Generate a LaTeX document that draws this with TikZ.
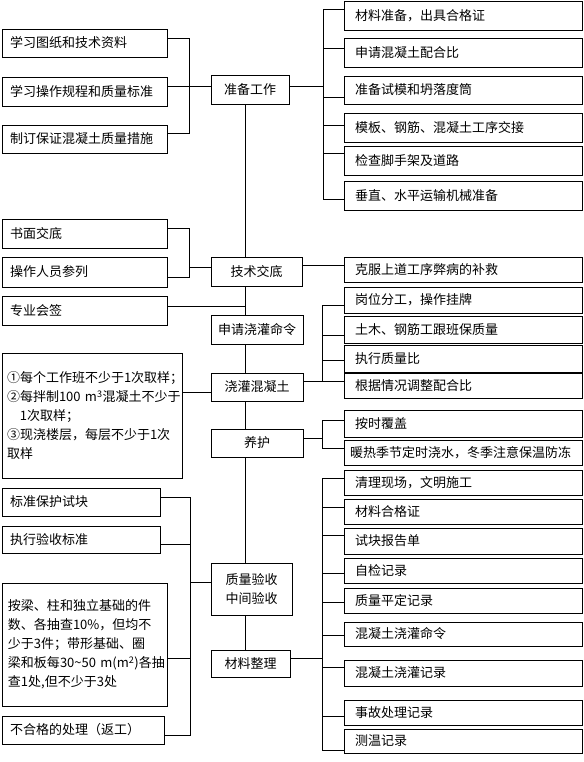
\documentclass[tikz,border=0pt]{standalone}
\usepackage{fontspec}
\setmainfont{Noto Sans CJK SC}
\tikzset{
  bx/.style={draw=black, line width=0.9pt, inner ysep=0pt, font=\fontsize{13}{19}\selectfont},
  ln/.style={draw=black, line width=0.8pt}
}
% \bxx{name}{x1}{y1}{x2}{y2}{padding}{align}{text}
\newcommand\bxx[8]{%
  \pgfmathsetmacro\bw{#4-#2}\pgfmathsetmacro\bh{#5-#3}\pgfmathsetmacro\tw{#4-#2-2*#6}%
  \node[bx, minimum width=\bw pt, minimum height=\bh pt, inner xsep=#6pt, text width=\tw pt, align=#7]
    (#1) at ({(#2+#4)/2},{(#3+#5)/2}) {#8};}
\begin{document}
\begin{tikzpicture}[x=1pt,y=-1pt]
\useasboundingbox (0,0) rectangle (583,762);
% ---------- left column ----------
\bxx{L1}{2}{29}{167}{57}{8}{left}{学习图纸和技术资料}
\bxx{L2}{2}{77}{167}{106}{8}{left}{学习操作规程和质量标准}
\bxx{L3}{2}{125}{167}{153}{8}{left}{制订保证混凝土质量措施}
\bxx{L4}{2}{219}{167}{248}{8}{left}{书面交底}
\bxx{L5}{2}{257}{167}{287}{8}{left}{操作人员参列}
\bxx{L6}{2}{296}{167}{325}{8}{left}{专业会签}
\bxx{N}{2}{353}{182}{478}{5}{left}{①每个工作班不少于1次取样；\\②每拌制100~m\textsuperscript{3}混凝土不少于\\\hspace*{1em}1次取样；\\③现浇楼层，每层不少于1次\\取样}
\bxx{L7}{2}{488}{160}{516}{8}{left}{标准保护试块}
\bxx{L8}{2}{526}{160}{553}{8}{left}{执行验收标准}
\bxx{L9}{2}{583}{167}{706}{6}{left}{按梁、柱和独立基础的件\\数、各抽查10\%，但均不\\少于3件；带形基础、圈\\梁和板每30\textasciitilde50~m(m\textsuperscript{2})各抽\\查1处,但不少于3处}
\bxx{L10}{2}{716}{164}{744}{8}{left}{不合格的处理（返工）}
% ---------- middle column ----------
\bxx{C1}{211}{75}{289}{104}{2}{center}{准备工作}
\bxx{C2}{211}{257}{302}{286}{2}{center}{技术交底}
\bxx{C3}{211}{315}{303}{344}{2}{center}{申请浇灌命令}
\bxx{C4}{211}{373}{303}{401}{2}{center}{浇灌混凝土}
\bxx{C5}{211}{429}{303}{457}{2}{center}{养护}
\bxx{C6}{211}{563}{292}{615}{2}{center}{质量验收\\中间验收}
\bxx{C7}{211}{650}{290}{677}{2}{center}{材料整理}
% ---------- right column ----------
\bxx{R1}{344}{1}{582}{30}{11}{left}{材料准备，出具合格证}
\bxx{R2}{344}{38}{582}{67}{11}{left}{申请混凝土配合比}
\bxx{R3}{344}{76}{582}{104}{11}{left}{准备试模和坍落度筒}
\bxx{R4}{344}{113}{582}{142}{11}{left}{模板、钢筋、混凝土工序交接}
\bxx{R5}{344}{146}{582}{175}{11}{left}{检查脚手架及道路}
\bxx{R6}{344}{181}{582}{210}{11}{left}{垂直、水平运输机械准备}
\bxx{R7}{344}{257}{582}{282}{11}{left}{克服上道工序弊病的补救}
\bxx{R8}{344}{287}{582}{313}{11}{left}{岗位分工，操作挂牌}
\bxx{R9}{344}{316}{582}{343}{11}{left}{土木、钢筋工跟班保质量}
\bxx{R10}{344}{345}{582}{372}{11}{left}{执行质量比}
\bxx{R11}{344}{373}{582}{398}{11}{left}{根据情况调整配合比}
\bxx{R12}{344}{410}{582}{437}{11}{left}{按时覆盖}
\bxx{R13}{344}{440}{582}{465}{6}{left}{暖热季节定时浇水，冬季注意保温防冻}
\bxx{R14}{344}{470}{582}{495}{11}{left}{清理现场，文明施工}
\bxx{R15}{344}{499}{582}{524}{11}{left}{材料合格证}
\bxx{R16}{344}{528}{582}{554}{11}{left}{试块报告单}
\bxx{R17}{344}{558}{582}{583}{11}{left}{自检记录}
\bxx{R18}{344}{588}{582}{613}{11}{left}{质量平定记录}
\bxx{R19}{344}{622}{582}{646}{11}{left}{混凝土浇灌命令}
\bxx{R20}{344}{660}{582}{686}{11}{left}{混凝土浇灌记录}
\bxx{R21}{344}{700}{582}{725}{11}{left}{事故处理记录}
\bxx{R22}{344}{729}{582}{753}{11}{left}{测温记录}
% ---------- junction points ----------
\coordinate (j1) at (189,86);
\coordinate (j2) at (189,267);
\coordinate (j3) at (190,582);
\coordinate (k1) at (323,86);
\coordinate (k2) at (322,381);
\coordinate (k3) at (322,438);
\coordinate (k4) at (322,658);
\coordinate (m1) at (245,306);
% ---------- main spine ----------
\draw[ln] (245,0 |- C1.south) -- (245,0 |- C2.north);
\draw[ln] (245,0 |- C2.south) -- (245,0 |- C3.north);
\draw[ln] (245,0 |- C3.south) -- (245,0 |- C4.north);
\draw[ln] (245,0 |- C4.south) -- (245,0 |- C5.north);
\draw[ln] (245,0 |- C5.south) -- (245,0 |- C6.north);
\draw[ln] (245,0 |- C6.south) -- (245,0 |- C7.north);
% ---------- left brackets ----------
\draw[ln] (L1.east |- 0,38) -| (j1);
\draw[ln] (L3.east |- 0,133) -| (j1);
\draw[ln] (L2.east |- 0,86) -- (C1.west |- 0,86);
\draw[ln] (L4.east |- 0,228) -| (j2);
\draw[ln] (L5.east |- 0,277) -| (j2);
\draw[ln] (j2) -- (C2.west |- 0,267);
\draw[ln] (L6.east |- 0,306) -- (m1);
\draw[ln] (N.east |- 0,392) -- (C4.west |- 0,392);
\foreach \n/\y in {L7/497,L8/544,L9/658,L10/735} \draw[ln] (\n.east |- 0,\y) -| (j3);
\draw[ln] (j3) -- (C6.west |- 0,582);
% ---------- right brackets ----------
\draw[ln] (C1.east |- 0,86) -- (k1);
\foreach \n/\y in {R1/9,R2/48,R3/97,R4/125,R5/153,R6/199} \draw[ln] (k1) |- (\n.west |- 0,\y);
\draw[ln] (C2.east |- 0,265) -- (R7.west |- 0,265);
\draw[ln] (C4.east |- 0,381) -- (k2);
\foreach \n/\y in {R8/305,R9/335,R10/360,R11/381} \draw[ln] (k2) |- (\n.west |- 0,\y);
\draw[ln] (C5.east |- 0,438) -- (k3);
\foreach \n/\y in {R12/420,R13/448} \draw[ln] (k3) |- (\n.west |- 0,\y);
\draw[ln] (C7.east |- 0,658) -- (k4);
\foreach \n/\y in {R14/478,R15/507,R16/535,R17/573,R18/602,R19/635,R20/667,R21/716,R22/750} \draw[ln] (k4) |- (\n.west |- 0,\y);
\end{tikzpicture}
\end{document}
